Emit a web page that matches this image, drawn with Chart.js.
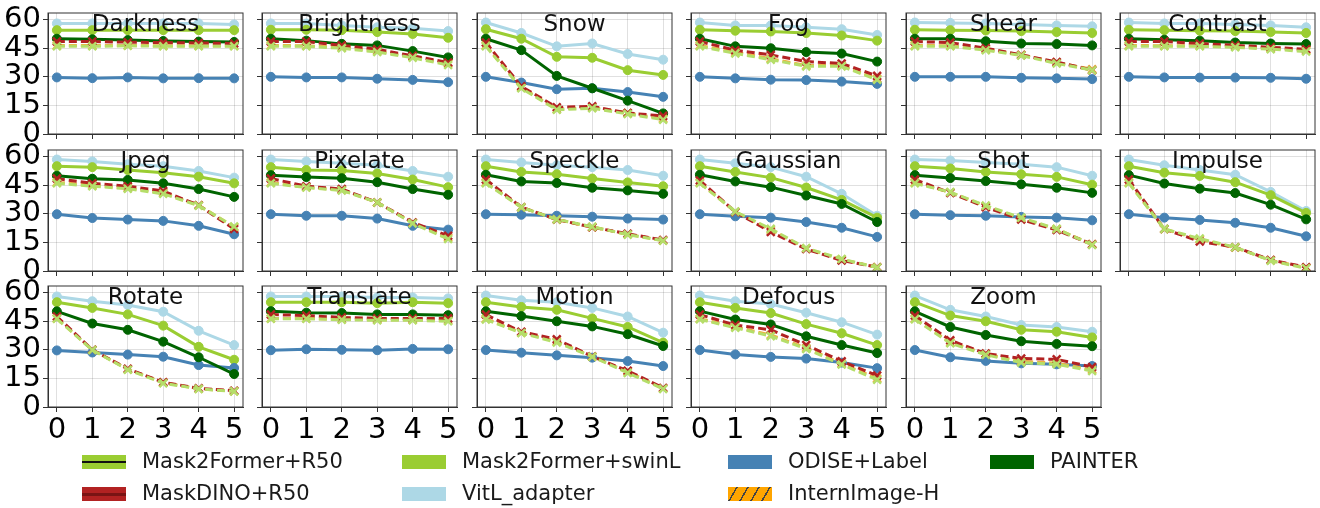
<!DOCTYPE html>
<html>
<head>
<meta charset="utf-8">
<script src="https://cdn.jsdelivr.net/npm/chart.js@4.4.1/dist/chart.umd.min.js"></script>
<style>
html, body { margin:0; padding:0; background:#fff; }
#fig { position:relative; width:1320px; height:508px; overflow:hidden; font-family:"DejaVu Sans", sans-serif; }
#fig canvas { position:absolute; }
.sw { position:absolute; width:44px; height:14px; }
.lt { position:absolute; font-size:21px; line-height:21px; color:#1a1a1a; white-space:nowrap; }
</style>
</head>
<body>
<div id="fig"></div>
<script>
// x = severity level, y = score
const X_VALUES = [0, 1, 2, 3, 4, 5];
const Y_TICKS = [0, 15, 30, 45, 60];
const CORRUPTIONS = ['Darkness','Brightness','Snow','Fog','Shear','Contrast',
  'Jpeg','Pixelate','Speckle','Gaussian','Shot','Impulse',
  'Rotate','Translate','Motion','Defocus','Zoom'];
// legend order (column by column, 4 columns)
const SERIES_NAMES = ['Mask2Former+R50','MaskDINO+R50','Mask2Former+swinL','VitL_adapter',
  'ODISE+Label','InternImage-H','PAINTER'];

// one row per corruption, same order as CORRUPTIONS
const VITL_ADAPTER = [
  [58,58,58,58,58,57.5],[58,58,57,56,55.5,54],[58.5,53,46,47.5,42,39],[58.5,57,57,56,55,52],
  [58.5,58.3,58,57.5,57,56.5],[58.5,58,58,57.5,57,56],
  [58.5,57.5,56,55,52.5,49],[58.5,57.5,56.5,55.5,52.5,49.5],[58.5,57,55.5,54.5,53,50],
  [58.5,56.5,54.5,49.5,40.5,29],[58.5,58,57,56,54.5,50],[58.5,55.5,53,50.5,41.5,31.5],
  [58,55.5,53.5,50,40,32.5],[58,58,58,57.5,57.5,57],[58.5,56,55,52,47.5,39],
  [58.5,55.5,54,49.5,44.5,38],[58.5,51,47.5,43,42,39.5]
];
const M2F_SWINL = [
  [54.5,54.5,54.5,54.5,54.5,54.5],[54.7,54.7,54.5,53.5,52.5,50.5],[55,50,40.5,40,33.5,31],[54.7,54.2,53.8,53,51.7,49],
  [54.7,54.5,54.3,54,53.5,53],[54.7,54.5,54.2,54,53.5,53],
  [55,54.5,53,51.5,49.5,46],[54.5,53,52.8,51.2,48,44],[55,52,50.8,48.5,46.5,44.5],
  [55,52,49,43.8,37.3,28],[55,53.8,52,50.8,49.4,45.3],[55,51.6,49.9,46.6,39.8,30.5],
  [55,52,48.6,42.7,31.6,24.8],[55,55,55,54.5,55,54.5],[55,52.5,51,46.5,42,33.8],
  [55,52,49.3,43.5,38.7,32.5],[55,48,45,40.5,39.5,36.5]
];
const PAINTER = [
  [50,49.7,49.3,48.8,48.5,48.3],[50,49,47.3,46.5,43.5,40.2],[50,44,30.5,24,17.5,10.8],[50,46,45,43,42.2,38],
  [50,50,48.7,47.5,47.2,46.5],[50,49.5,49,48,47.5,47.2],
  [50,48.4,47.8,46,43,38.9],[50.3,49.3,48.7,46.6,43,40],[50.5,47,46.2,43.7,42.3,40.5],
  [50.5,47,44,39.6,35.2,25.7],[50.3,48.8,47.2,45.5,43.7,41],[50.3,45.9,43.2,40.9,34.8,27.1],
  [50.2,43.8,40.5,34.3,26.1,17.3],[50.3,49.5,49.3,48.6,48.6,48.2],[50.2,47.7,45,42.3,38.2,32],
  [50.3,45.9,43.3,37.1,32.5,28.3],[50.2,42,37.8,34.5,33.1,31.9]
];
const MASKDINO_R50 = [
  [48.5,48.5,48.2,48,47.8,47.5],[48.5,48.5,46.5,44.5,41,37.5],[48,25,14,14.5,11,9.5],[48.5,44,41.5,38,37,30.5],
  [48.5,48,45,41.5,37.8,33.5],[48.5,48.5,47.5,46.5,45.5,44.5],
  [48.5,46,44.5,42,34.5,22],[48.5,44.5,43,36,25.5,18.5],[48,33.5,27,23,19.5,16.3],
  [47.5,31,20.5,11.5,5.5,2],[48,41,33.5,27,21.5,14],[48,22,15.5,12.5,5.8,2],
  [47.5,30,20,13,9.8,8.5],[48.5,48,47,46.5,46.5,46.5],[48.5,39.5,35.5,26.5,19,10],
  [48.5,43,40.5,32.5,24,16.5],[48,35,28,25.5,25,21]
];
const M2F_R50 = [
  [46,46,46.3,46,46,46],[46,46,45,43,40,36.2],[46,24,12.7,13.5,10.5,7.5],[46,42.3,39,35.5,35.5,28.5],
  [46,46,44,41.2,37,33.5],[46,46,46,45.5,44.5,43.3],
  [46,44.5,43.2,40.5,34.3,23.3],[46,43.8,42.3,36,25,16.8],[46,33.4,27.1,23.2,19.1,15.9],
  [46,31.2,22.1,12,6.3,1.8],[46,41.4,34.3,28,22.1,13.7],[46,22.1,17,12.5,5.4,1.4],
  [46.3,29.9,19.6,12.5,9.5,8.2],[46.3,46.3,45.8,45.5,45.5,45],[45.9,38.8,33.9,26.4,17.9,9.5],
  [46,41.6,37.2,30.5,22.3,14.3],[46,33.5,27.4,23.3,22.4,18.9]
];
const INTERNIMAGE_H = [
  [46.5,46.5,46.5,46.3,46.3,46.3],[46.5,46.3,45.5,43.5,40.5,37],[46.5,24.5,13,14,11,8],[46.5,43,39.5,36,36,29],
  [46.5,46.3,44.5,41.5,37.5,34],[46.5,46.3,46.3,46,45,44],
  [46.5,45,43.5,41,34.5,23],[46.5,44,42.5,36,25.3,17.5],[46.5,33.5,27,23,19.3,16],
  [46.5,31,21.5,11.8,6,2],[46.5,41.2,34,27.5,22,14],[46.5,22,16.5,12.3,5.6,1.8],
  [46.5,30,19.8,12.8,9.6,8.3],[46.5,46.5,46,45.8,45.8,45.5],[46.3,39,34.5,26.5,18.5,9.8],
  [46.3,42,37.8,31,22.8,15],[46.3,34,27.8,24,23,19.5]
];
const ODISE_LABEL = [
  [29.7,29.3,29.7,29.2,29.3,29.2],[30,29.7,29.7,29,28.4,27.2],[30,27,23.5,24,22,19.5],[30,29.2,28.5,28.3,27.5,26.3],
  [30,30,30,29.5,29.2,28.8],[30,29.7,29.6,29.6,29.5,29],
  [29.8,27.8,27,26.3,23.7,19.3],[29.8,29,29,27.5,23.7,21.7],[29.8,29.5,29,28.5,27.5,27],
  [29.8,28.7,28,25.7,22.7,17.9],[29.8,29.3,29,28.4,28,26.6],[29.8,28,26.8,25.3,22.7,18.2],
  [29.7,28.6,27.5,26.4,22,20.5],[29.8,30.3,30,29.8,30.5,30.3],[29.9,28.5,27.1,25.9,24.1,21.5],
  [29.9,27.6,26.3,25.4,23.3,20.4],[29.9,26.1,24.2,22.9,22.4,21.5]
];

// drawing order: lower "order" is painted on top
const STYLES = [
  {name:'VitL_adapter',      data:VITL_ADAPTER,  color:'#add8e6', dash:false, order:7},
  {name:'Mask2Former+swinL', data:M2F_SWINL,     color:'#9acd32', dash:false, order:6},
  {name:'ODISE+Label',       data:ODISE_LABEL,   color:'#4682b4', dash:false, order:5},
  {name:'PAINTER',           data:PAINTER,       color:'#006400', dash:false, order:4},
  {name:'InternImage-H',     data:INTERNIMAGE_H, color:'#f0b040', dash:true,  order:3},
  {name:'MaskDINO+R50',      data:MASKDINO_R50,  color:'#b22222', dash:true,  order:2},
  {name:'Mask2Former+R50',   data:M2F_R50,       color:'#b5de6a', dash:true,  order:1}
];

const FONT = '"DejaVu Sans", sans-serif';
const COL_LEFT = [48, 262, 477, 691, 906, 1120];
const ROW_TOP = [13, 149.5, 286];
const PW = 195, PH = 121;
const YAX = 48, XAX = 40, TOPPAD = 22, RPAD = 16;

const fig = document.getElementById('fig');

const framePlugin = {
  id: 'frame',
  afterDraw(chart, args, opts) {
    const a = chart.chartArea, ctx = chart.ctx;
    ctx.save();
    ctx.strokeStyle = '#333';
    ctx.lineWidth = 1;
    ctx.strokeRect(a.left, a.top, a.right - a.left, a.bottom - a.top);
    ctx.fillStyle = '#111';
    ctx.font = '23px ' + FONT;
    ctx.textAlign = 'center';
    ctx.textBaseline = 'alphabetic';
    ctx.fillText(opts.text, (a.left + a.right) / 2, a.top + 18);
    ctx.restore();
  }
};

CORRUPTIONS.forEach((name, i) => {
  const r = Math.floor(i / 6), c = i % 6;
  const showY = c === 0;
  const showX = r === 2;
  const cv = document.createElement('canvas');
  cv.width = PW + YAX + RPAD;
  cv.height = PH + TOPPAD + XAX;
  cv.style.left = (COL_LEFT[c] - YAX) + 'px';
  cv.style.top = (ROW_TOP[r] - TOPPAD) + 'px';
  fig.appendChild(cv);

  const datasets = STYLES.map(s => ({
    label: s.name,
    data: X_VALUES.map((x, k) => ({x: x, y: s.data[i][k]})),
    borderColor: s.color,
    backgroundColor: s.color,
    borderWidth: 3,
    borderDash: s.dash ? [8, 4] : [],
    pointStyle: s.dash ? 'crossRot' : 'circle',
    pointRadius: s.dash ? 5.5 : 4.5,
    pointBorderWidth: s.dash ? 2.5 : 1,
    pointBorderColor: s.color,
    pointBackgroundColor: s.color,
    order: s.order,
    tension: 0
  }));

  new Chart(cv.getContext('2d'), {
    type: 'line',
    data: { datasets },
    options: {
      responsive: false,
      animation: false,
      events: [],
      layout: { padding: { top: TOPPAD, right: RPAD, left: 0, bottom: 0 } },
      plugins: { legend: { display: false }, tooltip: { enabled: false }, frame: { text: name } },
      scales: {
        x: {
          type: 'linear', min: -0.25, max: 5.25,
          afterBuildTicks: s => { s.ticks = X_VALUES.map(v => ({value: v})); },
          afterFit: s => { s.height = XAX; },
          ticks: { display: showX, color: '#000', font: { size: 29, family: FONT }, padding: 1, maxRotation: 0, autoSkip: false },
          grid: { color: 'rgba(0,0,0,0.12)', tickColor: '#333', tickLength: 5 },
          border: { color: '#333' }
        },
        y: {
          min: 0, max: 63.5,
          afterBuildTicks: s => { s.ticks = Y_TICKS.map(v => ({value: v})); },
          afterFit: s => { s.width = YAX; },
          ticks: { display: showY, color: '#000', font: { size: 29, family: FONT }, padding: 2, autoSkip: false },
          grid: { color: 'rgba(0,0,0,0.12)', tickColor: '#333', tickLength: 5 },
          border: { color: '#333' }
        }
      }
    },
    plugins: [framePlugin]
  });
});

// legend: 4 columns filled top to bottom, like matplotlib
const LEG_SWATCH = {
  'Mask2Former+R50': 'linear-gradient(to bottom, #9acd32 44%, #111 44%, #111 58%, #9acd32 58%)',
  'MaskDINO+R50': 'linear-gradient(to bottom, #b22222 40%, #7a1414 40%, #7a1414 62%, #b22222 62%)',
  'Mask2Former+swinL': '#9acd32',
  'VitL_adapter': '#add8e6',
  'ODISE+Label': '#4682b4',
  'InternImage-H': 'repeating-linear-gradient(-60deg, #ffa500 0px, #ffa500 8px, #444 8px, #444 9.5px)',
  'PAINTER': '#006400'
};
const LEG_COL_X = [82, 402, 728, 990];
const LEG_ROW_Y = [462, 494];
SERIES_NAMES.forEach((n, k) => {
  const col = Math.floor(k / 2), row = k % 2;
  const sw = document.createElement('div');
  sw.className = 'sw';
  sw.style.left = LEG_COL_X[col] + 'px';
  sw.style.top = (LEG_ROW_Y[row] - 7) + 'px';
  sw.style.background = LEG_SWATCH[n];
  fig.appendChild(sw);
  const t = document.createElement('div');
  t.className = 'lt';
  t.textContent = n;
  t.style.left = (LEG_COL_X[col] + 60) + 'px';
  t.style.top = (LEG_ROW_Y[row] - 11) + 'px';
  fig.appendChild(t);
});
</script>
</body>
</html>
